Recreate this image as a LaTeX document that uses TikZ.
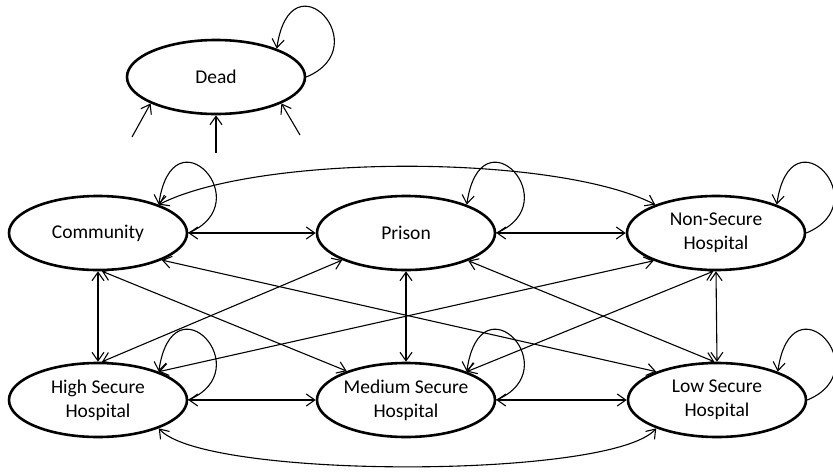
\documentclass[tikz,border=0pt]{standalone}
\usepackage{fontspec}
\setmainfont{Carlito}
\usetikzlibrary{shapes.geometric,arrows.meta,calc}
\newcommand\selfloop[1]{\draw[oneway] (#1.east) .. controls ($(#1.east)+(72,-30)$) and ($(#1.25)+(14,-96)$) .. (#1.25);}
\begin{document}
\begin{tikzpicture}[x=1pt,y=-1pt,
  state/.style={draw, ellipse, line width=2.6pt, minimum width=178pt, minimum height=74pt,
    inner sep=0pt, align=center, font=\fontsize{19.5}{24}\selectfont},
  link/.style={line width=1.1pt, {Straight Barb[length=8.5pt,width=12pt]}-{Straight Barb[length=8.5pt,width=12pt]}},
  oneway/.style={line width=1.1pt, -{Straight Barb[length=8.5pt,width=12pt]}}
]
\useasboundingbox (0,0) rectangle (833,472);
\fill[white] (0,0) rectangle (833,472);

\node[state] (dead) at (216,77) {Dead};
\node[state] (community) at (98,233) {Community};
\node[state] (prison) at (406,233) {Prison};
\node[state] (nonsecure) at (716,233) {Non-Secure\\Hospital};
\node[state] (high) at (98,400) {High Secure\\Hospital};
\node[state] (medium) at (406,400) {Medium Secure\\Hospital};
\node[state] (low) at (717,400) {Low Secure\\Hospital};

% self loops
\selfloop{dead}
\selfloop{community}
\selfloop{prison}
\selfloop{nonsecure}
\selfloop{high}
\selfloop{medium}
\selfloop{low}

% incoming to Dead
\coordinate (d1) at (132,137);
\coordinate (d2) at (216,153);
\coordinate (d3) at (300,135);
\draw[oneway] (d1) -- (dead.202);
\draw[oneway] (d2) -- (dead.south);
\draw[oneway] (d3) -- (dead.338);

% horizontals
\draw[link] (community.east) -- (prison.west);
\draw[link] (prison.east) -- (nonsecure.west);
\draw[link] (high.east) -- (medium.west);
\draw[link] (medium.east) -- (low.west);

% verticals
\draw[link] (community.south) -- (high.north);
\draw[link] (prison.south) -- (medium.north);
\draw[link] (nonsecure.south) -- (low.north);

% diagonals
\draw[link] (community.-23) -- (low.155);
\draw[link] (high.25) -- (nonsecure.204);
\draw[link] (community.-84) -- (medium.154);
\draw[link] (high.84) -- (prison.203);
\draw[link] (prison.-24) -- (low.94);
\draw[link] (nonsecure.-94) -- (medium.25);

% long arcs
\draw[link] (community.25) .. controls ($(community.25)+(100,-51)$) and ($(nonsecure.155)+(-100,-51)$) .. (nonsecure.155);
\draw[link] (high.-25) .. controls ($(high.-25)+(45,51)$) and ($(low.205)+(-45,51)$) .. (low.205);
\end{tikzpicture}
\end{document}
